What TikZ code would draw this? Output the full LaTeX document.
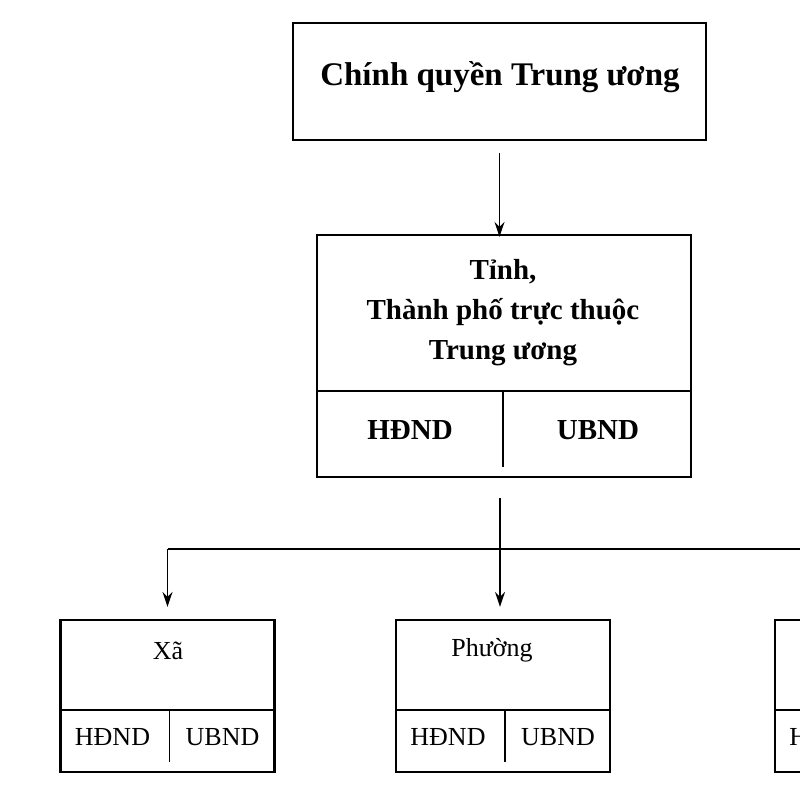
\documentclass[tikz,border=0pt]{standalone}
\usepackage{fontspec}
\setmainfont{Liberation Serif}
\usepackage{tikz}
\usetikzlibrary{arrows.meta, positioning, calc}

\begin{document}
\begin{tikzpicture}[x=1pt, y=-1pt,
  box/.style={draw, line width=2.2pt, inner sep=0pt},
  arr/.style={-{Stealth[length=15pt,width=10pt]}, line width=1.8pt},
  sep/.style={line width=1.8pt},
  big/.style={font=\bfseries\fontsize{33}{40}\selectfont},
  mid/.style={font=\bfseries\fontsize{29}{40}\selectfont, align=center},
  low/.style={font=\fontsize{26}{30}\selectfont}]
\useasboundingbox (0,0) rectangle (800,800);
\clip (0,0) rectangle (800,800);
% Central government
\node[box, minimum width=413pt, minimum height=117pt] (tw) at (499.5,81.5) {};
\node[big, anchor=base] (twtext) at (500,85) {Chính quyền Trung ương};
% Province level
\node[box, minimum width=374pt, minimum height=242pt] (tinh) at (504,356) {};
\node[mid, anchor=base] (tinhtext) at (503,359) {Tỉnh,\\Thành phố trực thuộc\\Trung ương};
\draw[sep] (318,391) -- (690,391);
\draw[sep] (503,391) -- (503,467);
\node[mid] (tinhhd) at (410,430) {HĐND};
\node[mid] (tinhub) at (598,430) {UBND};
% Lower level boxes
\foreach \nm/\cx in {xa/167.5, phuong/503, tt/882} {
    \node[box, minimum width=214pt, minimum height=152pt] (\nm) at (\cx,696) {};
    \draw[sep] (\cx-107,710) -- (\cx+107,710);
    \draw[sep] (\cx+2,710) -- (\cx+2,762);
    \node[low] (\nm hd) at (\cx-55,737) {HĐND};
    \node[low] (\nm ub) at (\cx+55,737) {UBND};
}
\node[low] (xatext) at (168,651) {Xã};
\node[low] (phuongtext) at (492,650) {Phường};
% Connectors
\coordinate (split) at (500,549);
\draw[arr, shorten >=9pt] ([yshift=-12pt]tw.south) -- ([yshift=-12pt]tw.south |- tinh.north);
\draw[sep] ([yshift=-20pt]tinh.south -| split) -- (split);
\draw[sep] (xa.north |- split) -- (tt.north |- split);
\draw[arr, shorten >=12pt] (xa.north |- split) -- (xa.north);
\draw[arr, shorten >=12pt] (split) -- (split |- phuong.north);
\draw[arr, shorten >=12pt] (tt.north |- split) -- (tt.north);
\end{tikzpicture}
\end{document}
